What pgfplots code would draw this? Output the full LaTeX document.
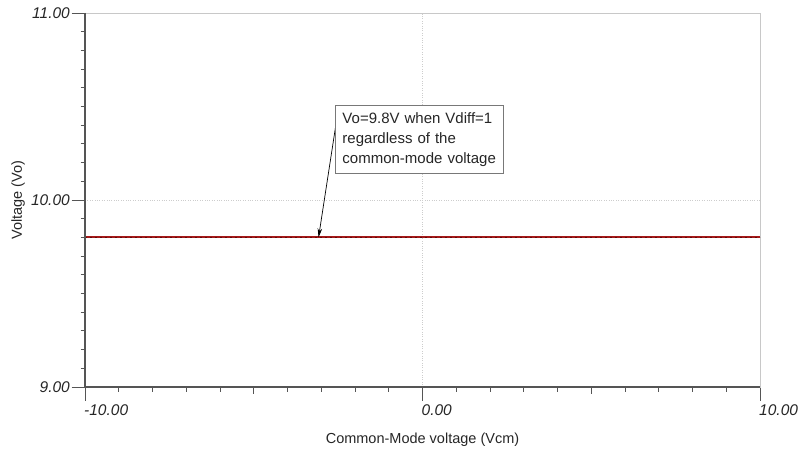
\documentclass[border=0pt]{standalone}
\usepackage{pgfplots}
\pgfplotsset{compat=1.18}
\usepackage{fontspec}
\setmainfont{Liberation Sans}
\usetikzlibrary{arrows.meta}

\definecolor{axisgray}{RGB}{85,85,85}
\definecolor{framegray}{RGB}{200,200,200}
\definecolor{gridgray}{RGB}{205,205,205}
\definecolor{boxgray}{RGB}{120,120,120}
\definecolor{tracered}{RGB}{165,25,25}
\definecolor{tracedark}{RGB}{95,10,10}

\begin{document}
\begin{tikzpicture}
\useasboundingbox (0,0) rectangle (800bp,451bp);
\begin{axis}[
    at={(85bp,64bp)}, anchor=south west,
    scale only axis,
    width=675bp, height=374bp,
    xmin=-10, xmax=10, ymin=9, ymax=11,
    xtick={-10,0,10},
    xticklabels={-10.00,0.00,10.00},
    ytick={9,10,11},
    yticklabels={9.00,10.00,11.00},
    minor x tick num=9,
    minor y tick num=9,
    extra x ticks={-5,5},
    extra x tick labels={},
    extra x tick style={major tick length=6.5bp, grid=none},
    xtick pos=left, ytick pos=left,
    tick align=outside,
    major tick length=13.5bp,
    minor tick length=4.5bp,
    tick style={axisgray, line width=0.8bp},
    axis line style={framegray, line width=0.8bp},
    grid=major,
    major grid style={gridgray, dotted, line width=0.7bp},
    ticklabel style={font=\fontsize{15.5bp}{18bp}\selectfont\itshape, text=black!85},
    yticklabel style={inner xsep=1.5bp},
    xticklabel style={anchor=north west, inner xsep=0pt, inner ysep=4bp, xshift=-1bp},
    label style={font=\fontsize{14.5bp}{17bp}\selectfont, text=black!85},
    xlabel={Common-Mode voltage (Vcm)},
    ylabel={Voltage (Vo)},
    xlabel style={at={(axis description cs:0.5,-0.1417)}, anchor=center},
    ylabel style={at={(axis description cs:-0.099,0.5)}, anchor=center, rotate=0},
    clip=false,
]
% output trace
\addplot[tracered, line width=2.2bp] coordinates {(-10,9.8) (10,9.8)};
\addplot[tracedark, line width=0.6bp, dash pattern=on 1.5bp off 3.5bp] coordinates {(-10,9.8) (10,9.8)};

% heavy left and bottom axis lines
\draw[axisgray, line width=1.6bp] (rel axis cs:0,1) -- (rel axis cs:0,0) -- (rel axis cs:1,0);

% annotation
\draw[black, line width=0.7bp, -{Stealth[length=9bp, width=4.5bp]}]
    (axis cs:-2.56,10.41) -- (axis cs:-3.08,9.8);
\node[draw=boxgray, line width=0.8bp, fill=white, anchor=north west,
      align=left, inner xsep=7bp, inner ysep=4bp,
      font=\fontsize{15bp}{20bp}\selectfont, text=black!85,
      minimum width=168bp, minimum height=68bp, text width=154bp]
    at (axis cs:-2.59,10.508)
    {Vo=9.8V when Vdiff=1\\regardless of the\\common-mode voltage};
\end{axis}
\end{tikzpicture}
\end{document}
